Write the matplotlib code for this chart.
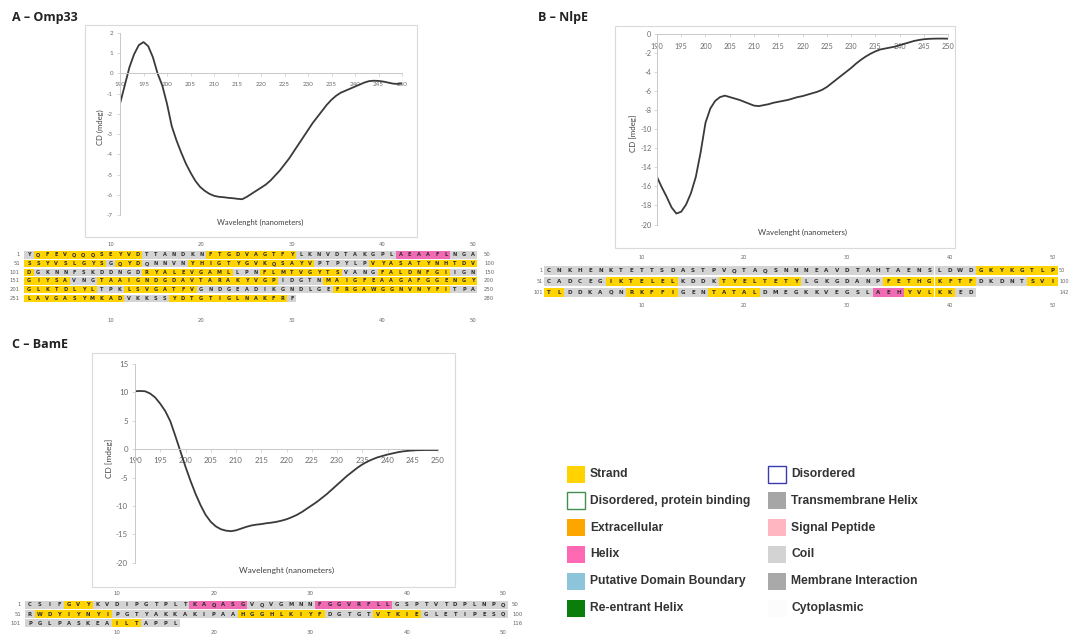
import numpy as np
import matplotlib.pyplot as plt
from matplotlib.patches import Rectangle

plt.rcParams['axes.unicode_minus'] = False

W, H = 1070, 643

# CD spectra, one value per nm from 190 to 250
wavelength = np.arange(190, 251)

omp33_cd = [-1.5, -0.6, 0.3, 0.95, 1.4, 1.55, 1.35, 0.8, 0.0, -0.6,
            -1.5, -2.6, -3.3, -3.9, -4.45, -4.9, -5.3, -5.6, -5.8, -5.95,
            -6.05, -6.1, -6.12, -6.15, -6.17, -6.2, -6.22, -6.1, -5.95, -5.8,
            -5.65, -5.5, -5.3, -5.05, -4.8, -4.5, -4.2, -3.85, -3.5, -3.15,
            -2.8, -2.45, -2.15, -1.85, -1.55, -1.3, -1.1, -0.95, -0.85, -0.75,
            -0.65, -0.55, -0.45, -0.38, -0.36, -0.37, -0.4, -0.45, -0.5, -0.52, -0.5]

nlpe_cd = [-15.0, -16.1, -17.1, -18.2, -18.85, -18.65, -17.9, -16.7, -15.0, -12.4,
           -9.3, -7.8, -7.0, -6.6, -6.45, -6.6, -6.75, -6.9, -7.1, -7.3,
           -7.5, -7.55, -7.45, -7.35, -7.2, -7.1, -7.0, -6.9, -6.75, -6.6,
           -6.5, -6.35, -6.2, -6.05, -5.85, -5.55, -5.15, -4.75, -4.35, -3.95,
           -3.55, -3.1, -2.7, -2.35, -2.05, -1.8, -1.6, -1.5, -1.4, -1.3,
           -1.15, -1.0, -0.85, -0.7, -0.6, -0.52, -0.48, -0.46, -0.45, -0.45, -0.46]

bame_cd = [10.2, 10.25, 10.2, 9.8, 9.1, 8.0, 6.7, 4.9, 2.3, -0.4,
           -3.1, -5.6, -7.9, -9.9, -11.6, -12.8, -13.6, -14.1, -14.35, -14.45,
           -14.3, -14.0, -13.7, -13.45, -13.3, -13.2, -13.05, -12.95, -12.8, -12.6,
           -12.35, -12.0, -11.6, -11.1, -10.5, -9.9, -9.3, -8.6, -7.9, -7.1,
           -6.3, -5.5, -4.7, -4.0, -3.3, -2.7, -2.2, -1.8, -1.45, -1.2,
           -0.95, -0.75, -0.55, -0.4, -0.3, -0.22, -0.18, -0.16, -0.15, -0.15, -0.15]

# sequences, 50 residues per row; y = strand, g = coil, p = helix
omp33_seq = ['YQFEVQQQSEYVDTTANDKNFTGDVAGTFYLKNVDTAKGPLAEAAFLNGA',
             'SSYVSLGYSGQYDQNNVNYHIGTYGVKQSAYVPTPYLPVYASATYNHTDV',
             'DGKNNFSKDDNGDRYALEVGAMLLPNFLMTVGYTSVANGFALDNFGIIGN',
             'GIYSAVNGTAAIGNDGDAVTARAKYVGPIDGTNMAIGFEAAGAFGGENGY',
             'GLKTDLYLTPKLSVGATFVGNDGEADIKGNDLGEFRGAWGGNVNYFITPA',
             'LAVGASYMKADVKKSSYDTGTIGLNAKFRF']
omp33_ss = ['g' + 'y' * 12 + 'g' * 7 + 'y' * 10 + 'g' * 11 + 'p' * 6 + 'g' * 3,
            'y' * 9 + 'g' + 'y' * 3 + 'g' * 5 + 'y' * 14 + 'g' * 6 + 'y' * 12,
            'y' + 'g' * 12 + 'y' * 10 + 'g' * 3 + 'y' * 9 + 'g' * 4 + 'y' * 8 + 'g' * 3,
            'y' * 5 + 'g' * 3 + 'y' * 20 + 'g' * 5 + 'y' * 17,
            'y' * 8 + 'g' * 3 + 'y' * 8 + 'g' * 15 + 'y' * 13 + 'g' * 3,
            'y' * 11 + 'g' * 5 + 'y' * 13 + 'g']
omp33_ends = [50, 100, 150, 200, 250, 280]

nlpe_seq = ['CNKHENKTETTSDASTPVQTAQSNNNEAVDTAHTAENSLDWDGKYKGTLP',
            'CADCEGIKTELELKDDKTYELTETYLGKGDANPFETHGKFTFDKDNTSVI',
            'TLDDKAQNRKFFIGENTATALDMEGKKVEGSLAEHYVLKKED']
nlpe_ss = ['g' * 42 + 'y' * 8,
           'g' * 6 + 'y' * 7 + 'g' * 4 + 'y' * 8 + 'g' * 8 + 'y' * 9 + 'g' * 5 + 'y' * 3,
           'y' * 2 + 'g' * 6 + 'y' * 5 + 'g' * 3 + 'y' * 5 + 'g' * 11 + 'p' * 3 + 'y' * 5 + 'g' * 2]
nlpe_ends = [50, 100, 142]

bame_seq = ['CSIFGVYKVDIPGTPLTKAQASGVQVGMNNFGGVRFLLGSPTVTDPLNPQ',
            'RWDYIYNYIPGTYAKKAKIPAAHGGHLKIYFDGTGTVTKIEGLETIPESQ',
            'PGLPASKEAILTAPPL']
bame_ss = ['g' * 4 + 'y' * 3 + 'g' * 10 + 'p' * 6 + 'g' * 7 + 'p' * 8 + 'g' * 12,
           'g' + 'y' * 8 + 'g' * 13 + 'y' * 9 + 'g' * 5 + 'y' * 5 + 'g' * 9,
           'g' * 9 + 'y' * 3 + 'g' * 4]
bame_ends = [50, 100, 116]

cell_colors = {'y': '#ffd400', 'g': '#d4d4d4', 'p': '#f06ab4'}

legend_left = ['Strand', 'Disordered, protein binding', 'Extracellular',
               'Helix', 'Putative Domain Boundary', 'Re-entrant Helix']
legend_left_fill = ['#ffd200', 'white', '#ffa500', '#ff69b4', '#8cc4da', '#0b7d0b']
legend_left_edge = ['none', '#3f8f4f', 'none', 'none', 'none', 'none']
legend_right = ['Disordered', 'Transmembrane Helix', 'Signal Peptide',
                'Coil', 'Membrane Interaction', 'Cytoplasmic']
legend_right_fill = ['white', '#a6a6a6', '#ffb6c1', '#d3d3d3', '#a9a9a9', '#fcfcfc']
legend_right_edge = ['#3a3ab0', 'none', 'none', 'none', 'none', 'none']


fig = plt.figure(figsize=(W / 100, H / 100), dpi=100)
ov = fig.add_axes([0, 0, 1, 1])
ov.set_xlim(0, W)
ov.set_ylim(H, 0)
ov.axis('off')


def px_axes(x0, y0, x1, y1):
    # axes placed by pixel box, y measured from the top
    ax = fig.add_axes([x0 / W, 1 - y1 / H, (x1 - x0) / W, (y1 - y0) / H])
    ax.patch.set_alpha(0)
    return ax


def cd_chart(box, area, ylim, ystep, values, ylabel, ylab_xy, xlab_xy, fs, tick_fs, ypad):
    bx0, by0, bx1, by1 = box
    ov.add_patch(Rectangle((bx0, by0), bx1 - bx0, by1 - by0, fill=False,
                           ec='#dadada', lw=0.8))
    ax = px_axes(*area)
    ax.set_xlim(190, 250)
    ax.set_ylim(*ylim)
    ax.plot(wavelength, values, color='#3a3a3a', lw=1.3, solid_capstyle='round')
    ax.spines[['top', 'right']].set_visible(False)
    ax.spines['bottom'].set_position(('data', 0))
    for s in ('left', 'bottom'):
        ax.spines[s].set_color('#c8c8c8')
        ax.spines[s].set_linewidth(0.7)
    ax.set_xticks(np.arange(190, 251, 5))
    ax.set_yticks(np.arange(ylim[0], ylim[1] + 1, ystep))
    ax.tick_params(length=2, width=0.5, color='#c8c8c8', labelsize=tick_fs,
                   labelcolor='#6a6a6a')
    ax.tick_params(axis='x', pad=4)
    ax.tick_params(axis='y', pad=ypad)
    for lab in ax.get_xticklabels() + ax.get_yticklabels():
        lab.set_family('Lato')
    ov.text(*ylab_xy, ylabel, rotation=90, ha='center', va='center', fontsize=fs,
            color='#404040', family='Lato')
    ov.text(*xlab_xy, 'Wavelenght (nanometers)', ha='center', va='center',
            fontsize=fs, color='#404040', family='Lato')
    return ax


def seq_block(rows, states, ends, x1, pitch, y1, rpitch, top_y, bot_y,
              left_x, right_x, letter_fs, num_fs):
    n = len(rows)
    ax = px_axes(x1 - pitch / 2, y1 - rpitch / 2, x1 + 49.5 * pitch, y1 + (n - 0.5) * rpitch)
    ax.set_xlim(0.5, 50.5)
    ax.set_ylim(n + 0.5, 0.5)
    ax.axis('off')
    to_col = lambda px: 1 + (px - x1) / pitch
    to_row = lambda py: 1 + (py - y1) / rpitch
    for r, (seq, st) in enumerate(zip(rows, states), start=1):
        for i, (aa, s) in enumerate(zip(seq, st), start=1):
            ax.add_patch(Rectangle((i - 0.5, r - 0.42), 1, 0.84, fc=cell_colors[s],
                                   ec='none', clip_on=False))
            ax.text(i, r, aa, ha='center', va='center', fontsize=letter_fs,
                    fontweight='bold', color='#2e2e2e', clip_on=False)
        ax.text(to_col(left_x), r, str(50 * (r - 1) + 1), ha='right', va='center',
                fontsize=num_fs, color='#666666', clip_on=False)
        ax.text(to_col(right_x), r, str(ends[r - 1]), ha='left', va='center',
                fontsize=num_fs, color='#666666', clip_on=False)
    for k in range(10, 51, 10):
        for yy in (top_y, bot_y):
            ax.text(k, to_row(yy), str(k), ha='center', va='center',
                    fontsize=num_fs, color='#666666', clip_on=False)


# A - Omp33
ov.text(12, 17, 'A \u2013 Omp33', ha='left', va='center', fontsize=9,
        fontweight='bold', color='#222222', family='Open Sans')
cd_chart((85, 25, 417, 237), (120, 33, 402, 215), (-7, 2), 1, omp33_cd,
         'CD (mdeg)', (100, 127), (260, 222), 5.5, 4.5, 3)
seq_block(omp33_seq, omp33_ss, omp33_ends, 29, 9.06, 255, 8.66, 245, 320,
          20, 484, 3.6, 3.8)

# B - NlpE
ov.text(538, 17, 'B \u2013 NlpE', ha='left', va='center', fontsize=9,
        fontweight='bold', color='#222222', family='Open Sans')
cd_chart((615, 26, 955, 248), (657, 34.3, 948, 224.5), (-20, 0), 2, nlpe_cd,
         'CD [mdeg]', (633, 133), (803, 232), 5.7, 5.2, 2)
seq_block(nlpe_seq, nlpe_ss, nlpe_ends, 549, 10.28, 270.5, 11, 257, 306,
          543, 1059, 4.0, 3.6)

# C - BamE
ov.text(12, 344, 'C \u2013 BamE', ha='left', va='center', fontsize=9,
        fontweight='bold', color='#222222', family='Open Sans')
cd_chart((92, 353, 455, 587), (135, 364, 438, 562.7), (-20, 15), 5, bame_cd,
         'CD [mdeg]', (109, 458), (287, 570), 6, 5.7, 3)
seq_block(bame_seq, bame_ss, bame_ends, 30, 9.66, 605, 9.15, 594, 633,
          21, 512, 3.8, 3.9)

# legend of residue annotations
for col, (names, fills, edges, sx) in enumerate([
        (legend_left, legend_left_fill, legend_left_edge, 567),
        (legend_right, legend_right_fill, legend_right_edge, 768)]):
    for j, (name, fc, ec) in enumerate(zip(names, fills, edges)):
        y = 474 + j * 26.8
        ov.add_patch(Rectangle((sx, y - 8.5), 18, 17, fc=fc, ec=ec, lw=1))
        ov.text(sx + 23, y, name, ha='left', va='center', fontsize=8.7,
                fontweight='bold', color='#333333', family='Liberation Sans')

fig.savefig('out.png', dpi=100)
